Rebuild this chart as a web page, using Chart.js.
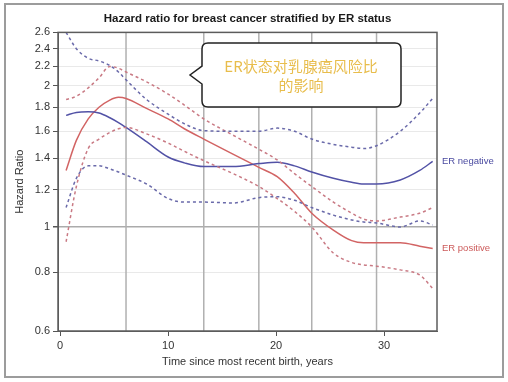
<!DOCTYPE html>
<html>
<head>
<meta charset="utf-8">
<script src="https://cdn.jsdelivr.net/npm/chart.js@4.4.1/dist/chart.umd.min.js"></script>
<style>
  html, body { margin: 0; padding: 0; background: #fff; }
  #wrap { width: 508px; height: 382px; }
</style>
</head>
<body>
<div id="wrap"><canvas id="hr-chart" width="508" height="382"></canvas></div>
<script>
const timeYears = [0.55, 1.5, 2.6, 3.6, 4.6, 5.4, 6.1, 8, 10, 11.5, 13.3, 16, 18.4, 20.1, 21.7, 23.3, 25.3, 27, 28.1, 29.3, 31.5, 33.3, 34.5];

const erNegHR    = [1.73, 1.755, 1.76, 1.75, 1.71, 1.67, 1.63, 1.52, 1.41, 1.37, 1.345, 1.345, 1.365, 1.375, 1.35, 1.31, 1.27, 1.245, 1.235, 1.235, 1.26, 1.32, 1.38];
const erNegUpper = [2.6, 2.40, 2.29, 2.26, 2.21, 2.14, 2.06, 1.87, 1.74, 1.66, 1.605, 1.60, 1.60, 1.625, 1.60, 1.54, 1.50, 1.48, 1.47, 1.49, 1.60, 1.75, 1.88];
const erNegLower = [1.10, 1.27, 1.35, 1.35, 1.33, 1.31, 1.29, 1.235, 1.15, 1.13, 1.13, 1.125, 1.155, 1.16, 1.14, 1.10, 1.06, 1.035, 1.025, 1.02, 1.00, 1.03, 1.01];

const erPosHR    = [1.32, 1.53, 1.70, 1.80, 1.865, 1.89, 1.88, 1.79, 1.70, 1.62, 1.54, 1.43, 1.34, 1.28, 1.18, 1.07, 0.985, 0.935, 0.925, 0.925, 0.925, 0.91, 0.90];
const erPosUpper = [1.87, 1.90, 1.98, 2.08, 2.20, 2.18, 2.14, 2.04, 1.92, 1.82, 1.70, 1.57, 1.465, 1.39, 1.30, 1.22, 1.13, 1.07, 1.04, 1.03, 1.05, 1.07, 1.10];
const erPosLower = [0.93, 1.22, 1.47, 1.54, 1.59, 1.62, 1.63, 1.58, 1.51, 1.45, 1.385, 1.30, 1.22, 1.15, 1.08, 1.00, 0.88, 0.84, 0.83, 0.825, 0.81, 0.79, 0.74];

// spline knots (vertical reference lines)
const knotYears = [6.1, 13.3, 18.4, 23.3, 29.3];

const xTickValues = [0, 10, 20, 30];
const yTickValues = [0.6, 0.8, 1, 1.2, 1.4, 1.6, 1.8, 2, 2.2, 2.4, 2.6];

const BLUE = "#5252a6";
const RED = "#d26464";
const BLUE_DASH = "#6a6aaa";
const RED_DASH = "#c97a84";

const toPoints = (vals) => vals.map((v, i) => ({ x: timeYears[i], y: v }));

const line = (label, vals, color, dashed) => ({
    label,
    data: toPoints(vals),
    borderColor: color,
    borderWidth: 1.5,
    borderDash: dashed ? [3, 3] : [],
    pointRadius: 0,
    fill: false,
    cubicInterpolationMode: "monotone"
});

Chart.defaults.font.family = "'Liberation Sans', Arial, sans-serif";
Chart.defaults.color = "#333";

const decor = {
    id: "decor",
    beforeDraw(chart) {
        const c = chart.ctx;
        c.save();
        c.fillStyle = "#fff";
        c.fillRect(0, 0, chart.width, chart.height);
        c.strokeStyle = "#9c9c9c";
        c.lineWidth = 2;
        c.strokeRect(5, 4, 498, 373);
        c.restore();
    },
    beforeDatasetsDraw(chart) {
        const { ctx: c, chartArea: a, scales: { x } } = chart;
        c.save();
        c.strokeStyle = "#b0b0b0";
        c.lineWidth = 1.5;
        knotYears.forEach(k => {
            const px = x.getPixelForValue(k);
            c.beginPath();
            c.moveTo(px, a.top);
            c.lineTo(px, a.bottom);
            c.stroke();
        });
        c.restore();
    },
    afterDatasetsDraw(chart) {
        const { ctx: c, chartArea: a, scales: { y } } = chart;
        c.save();
        // plot frame
        c.strokeStyle = "#5c5c5c";
        c.lineWidth = 1.5;
        c.strokeRect(a.left, a.top, a.right - a.left, a.bottom - a.top);

        // curve labels at the right end
        c.font = "9.5px 'Liberation Sans', Arial, sans-serif";
        c.textBaseline = "middle";
        c.textAlign = "left";
        c.fillStyle = "#4a4aa0";
        c.fillText("ER negative", a.right + 5, y.getPixelForValue(erNegHR[erNegHR.length - 1]));
        c.fillStyle = "#cc5a5a";
        c.fillText("ER positive", a.right + 5, y.getPixelForValue(erPosHR[erPosHR.length - 1]));

        // callout box
        const L = 202, R = 401, T = 43, B = 107, r = 6;
        c.beginPath();
        c.moveTo(L + r, T);
        c.lineTo(R - r, T);
        c.quadraticCurveTo(R, T, R, T + r);
        c.lineTo(R, B - r);
        c.quadraticCurveTo(R, B, R - r, B);
        c.lineTo(L + r, B);
        c.quadraticCurveTo(L, B, L, B - r);
        c.lineTo(L, 84);
        c.lineTo(190, 75);
        c.lineTo(L, 66);
        c.lineTo(L, T + r);
        c.quadraticCurveTo(L, T, L + r, T);
        c.closePath();
        c.fillStyle = "#fff";
        c.fill();
        c.strokeStyle = "#222";
        c.lineWidth = 1.5;
        c.stroke();

        c.fillStyle = "#e8bd4c";
        c.textAlign = "center";
        c.font = "15px 'Noto Sans CJK SC', sans-serif";
        c.fillText("ER状态对乳腺癌风险比", 301, 66);
        c.fillText("的影响", 301, 85);
        c.restore();
    }
};

new Chart(document.getElementById("hr-chart"), {
    type: "line",
    data: {
        datasets: [
            line("ER negative upper", erNegUpper, BLUE_DASH, true),
            line("ER negative lower", erNegLower, BLUE_DASH, true),
            line("ER positive upper", erPosUpper, RED_DASH, true),
            line("ER positive lower", erPosLower, RED_DASH, true),
            line("ER negative", erNegHR, BLUE, false),
            line("ER positive", erPosHR, RED, false)
        ]
    },
    options: {
        responsive: false,
        animation: false,
        devicePixelRatio: 1,
        layout: { padding: { left: 0, top: 0, right: 71, bottom: 0 } },
        plugins: {
            legend: { display: false },
            tooltip: { enabled: false },
            title: {
                display: true,
                fullSize: false,
                text: "Hazard ratio for breast cancer stratified by ER status",
                color: "#1a1a1a",
                font: { size: 11.5, weight: "bold" },
                padding: { top: 12, bottom: 6.6 }
            }
        },
        scales: {
            x: {
                type: "linear",
                min: -0.2,
                max: 34.9,
                afterBuildTicks: (s) => { s.ticks = xTickValues.map(v => ({ value: v })); },
                afterFit: (s) => { s.height = 51; },
                ticks: { font: { size: 11 }, color: "#333", padding: 3 },
                grid: { drawOnChartArea: false, tickLength: 5, tickColor: "#555" },
                border: { color: "#5c5c5c" },
                title: {
                    display: true,
                    text: "Time since most recent birth, years",
                    font: { size: 11 },
                    color: "#333",
                    padding: { top: 4, bottom: 13 }
                }
            },
            y: {
                type: "logarithmic",
                min: 0.6,
                max: 2.6,
                afterBuildTicks: (s) => { s.ticks = yTickValues.map(v => ({ value: v })); },
                afterFit: (s) => { s.width = 58; },
                ticks: {
                    font: { size: 11 },
                    color: "#333",
                    padding: 3,
                    callback: (v) => String(v)
                },
                grid: {
                    tickLength: 5,
                    tickColor: "#555",
                    color: (ctx) => (ctx.tick && ctx.tick.value === 1 ? "#ababab" : "#e9e9e9"),
                    lineWidth: (ctx) => (ctx.tick && ctx.tick.value === 1 ? 1.5 : 1)
                },
                border: { color: "#5c5c5c" },
                title: {
                    display: true,
                    text: "Hazard Ratio",
                    font: { size: 11 },
                    color: "#333",
                    padding: { top: 13, bottom: 4 }
                }
            }
        }
    },
    plugins: [decor]
});
</script>
</body>
</html>
